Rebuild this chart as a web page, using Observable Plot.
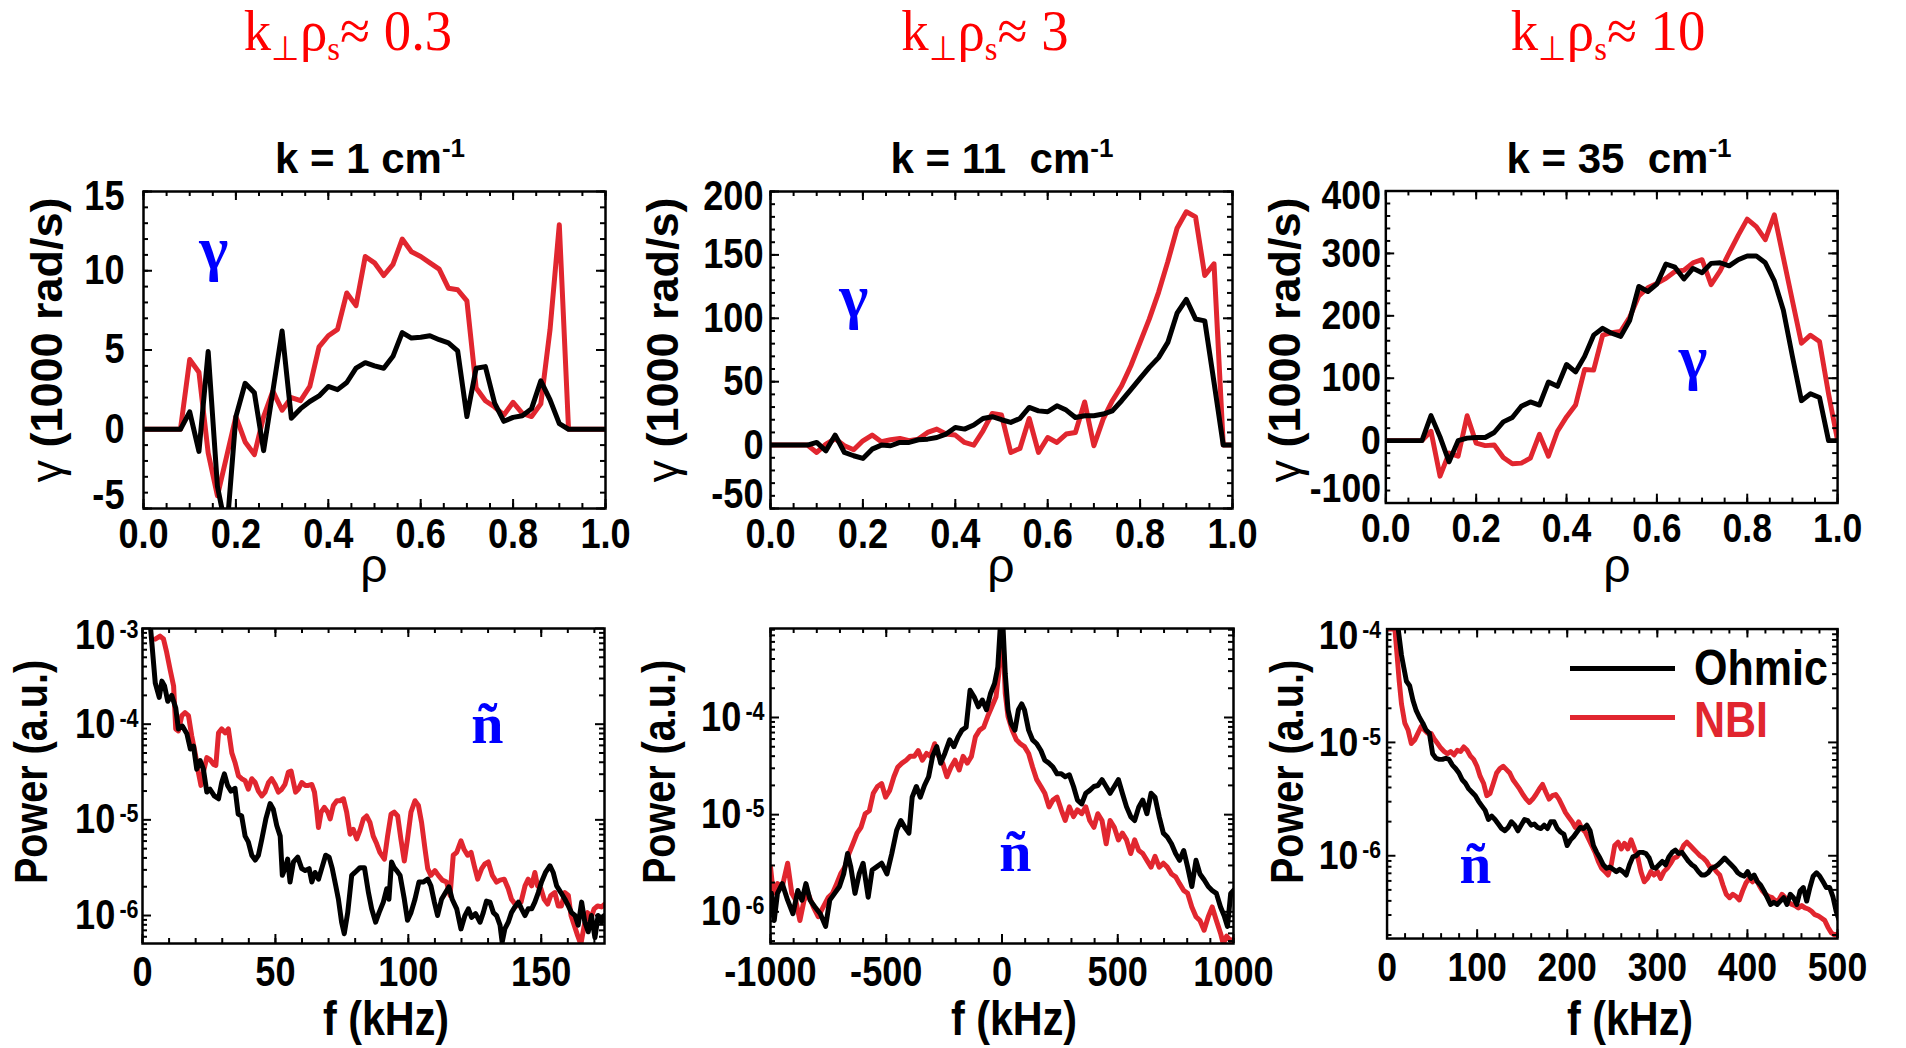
<!DOCTYPE html>
<html><head><meta charset="utf-8">
<script src="https://cdn.jsdelivr.net/npm/d3@7"></script>
<script src="https://cdn.jsdelivr.net/npm/@observablehq/plot@0.6"></script>
<style>
html,body{margin:0;padding:0;background:#fff;}
#fig{position:relative;width:1906px;height:1048px;overflow:hidden;background:#fff;}
.ov{position:absolute;white-space:pre;line-height:0.8;font-family:"Liberation Sans",Arial,sans-serif;font-weight:bold;color:#000;}
.ov sup{font-size:0.62em;vertical-align:0.62em;line-height:0;}
.hdr{font-family:"Liberation Serif","Times New Roman",serif;font-weight:normal;color:#ff0000;line-height:1.3;}
.hdr sub{font-size:0.6em;vertical-align:-0.3em;line-height:0;}
.panel{position:absolute;}
</style></head><body><div id="fig"></div>
<script>
// ---------------- DATA ----------------
const rho = [0,0.02,0.04,0.06,0.08,0.1,0.12,0.14,0.16,0.18,0.2,0.22,0.24,0.26,0.28,0.3,0.32,0.34,0.36,0.38,0.4,0.42,0.44,0.46,0.48,0.5,0.52,0.54,0.56,0.58,0.6,0.62,0.64,0.66,0.68,0.7,0.72,0.74,0.76,0.78,0.8,0.82,0.84,0.86,0.88,0.9,0.92,0.94,0.96,0.98,1.0];

// growth rate gamma (1000 rad/s), k = 1 cm^-1
const gammaK1Ohmic = [0,0,0,0,0,1.1,-1.4,4.9,-3.6,-6.5,0.8,2.9,2.3,-1.35,2.4,6.2,0.7,1.3,1.75,2.1,2.7,2.5,2.95,3.85,4.2,4.0,3.85,4.6,6.1,5.75,5.8,5.9,5.65,5.45,4.95,0.8,3.85,3.95,1.65,0.5,0.75,0.85,1.3,3.05,1.85,0.35,0,0,0,0,0];
const gammaK1NBI   = [0,0,0,0,0,4.4,3.6,-1.5,-4.2,-1.7,0.8,-0.8,-1.6,0.8,2.4,1.2,2.0,1.8,2.7,5.2,5.9,6.3,8.6,7.8,10.9,10.5,9.7,10.4,12.0,11.2,10.9,10.5,10.1,8.9,8.8,8.1,2.6,1.8,1.4,0.9,1.7,1.0,0.8,1.6,6.3,12.9,0,0,0,0,0];
// k = 11 cm^-1
const gammaK11Ohmic = [0,0,0,0,0,2.1,-4.5,7.9,-5.8,-8.4,-10.5,-3.2,0,-0.5,2.1,2.1,4.2,4.7,6,8.7,13.9,12.6,15.8,21,22.4,20,17.9,21,29.7,27,26.3,31,27.6,21.8,23.2,23.2,24.5,27,35,43.7,52.6,61.3,69,81,104,115,99.5,98,49.5,0,0];
const gammaK11NBI   = [0,0,0,0,0,-5.8,0.8,5,-0.5,-3.7,3.4,7.9,2.6,4.2,5.3,3.4,4.7,10,12.6,8.7,7.9,2.1,0,11.3,25,23.7,-5.8,-2.6,21,-5.8,6,2.1,8.7,10,34,-0.5,20.5,35,46.8,62.6,81,99.5,120.5,144.7,171,184,180,133.7,143,0,0];
// k = 35 cm^-1
const gammaK35Ohmic = [0,0,0,0,0,40,6,-34,0,4,5,5,13,30,37,55,62,57,94,87,122,110,135,169,180,172,167,193,247,239,251,283,278,259,276,269,284,285,280,290,296,296,285,256,209,135,64,75,69,0,0];
const gammaK35NBI   = [0,0,0,0,0,15,-57,-20,-25,40,-4,-8,-7,-27,-37,-36,-28,10,-25,15,38,57,114,113,169,173,175,198,232,245,252,260,271,273,285,290,250,272,301,329,355,343,322,362,293,224,156,169,159,75,0];

// density fluctuation spectra: [f (kHz), log10 Power (a.u.)]
const specK1Ohmic = [[2.9,-2.95],[4.8,-3.57],[6.3,-3.72],[7.3,-3.55],[8.3,-3.60],[9.5,-3.76],[11,-3.70],[12.5,-3.83],[13.5,-4.05],[15,-4.02],[16.7,-4.10],[18,-4.26],[19.2,-4.23],[20.4,-4.47],[21.7,-4.38],[22.9,-4.47],[24.2,-4.71],[25.4,-4.68],[27,-4.75],[28.6,-4.78],[29.8,-4.61],[30.8,-4.52],[32,-4.64],[33.3,-4.70],[34.8,-4.67],[36,-4.94],[37.3,-4.96],[38.6,-5.17],[39.8,-5.23],[41.1,-5.37],[42.4,-5.42],[43.6,-5.37],[44.9,-5.20],[46.4,-4.99],[48,-4.83],[49.2,-4.89],[50.5,-5.06],[51.8,-5.17],[52.6,-5.58],[53.6,-5.51],[54.6,-5.41],[55.5,-5.65],[56.8,-5.44],[58.4,-5.39],[59.9,-5.51],[61.2,-5.53],[62.7,-5.51],[63.7,-5.65],[64.9,-5.55],[66.2,-5.62],[67.4,-5.51],[68.9,-5.37],[70.2,-5.39],[71.4,-5.51],[72.7,-5.69],[73.7,-5.83],[74.9,-6.07],[75.9,-6.19],[77.2,-5.97],[78.7,-5.58],[79.9,-5.55],[81.8,-5.50],[83.5,-5.50],[85,-5.76],[86.2,-5.93],[87.7,-6.07],[89,-5.97],[90.6,-5.86],[91.9,-5.72],[92.7,-5.83],[93.7,-5.44],[94.7,-5.50],[95.6,-5.53],[96.9,-5.58],[98.5,-5.83],[99.7,-6.05],[101,-5.97],[102.5,-5.83],[104,-5.65],[105.6,-5.65],[107.3,-5.62],[108.5,-5.69],[109.8,-5.86],[111,-6.00],[112.5,-5.83],[114,-5.76],[115.3,-5.70],[116.5,-5.83],[118.2,-5.93],[119.8,-6.14],[121.3,-6.00],[122.6,-5.93],[123.8,-6.02],[125.3,-5.98],[127,-6.07],[128.2,-5.97],[129.4,-5.85],[130.7,-5.86],[132,-5.97],[133.2,-6.00],[134.5,-6.10],[135.3,-6.28],[136.3,-6.14],[137.6,-6.07],[138.8,-5.97],[140.1,-5.91],[141.4,-5.86],[142.6,-5.93],[143.9,-6.00],[145.1,-5.93],[146.4,-5.93],[147.6,-5.86],[148.9,-5.76],[150.1,-5.65],[151.6,-5.55],[153.3,-5.48],[154.5,-5.55],[155.8,-5.69],[157.4,-5.76],[158.9,-5.83],[160.2,-5.90],[161.4,-5.97],[162.7,-6.00],[163.9,-6.10],[165.2,-5.86],[166.4,-6.07],[167.7,-6.17],[168.9,-6.00],[170.2,-6.23],[171.4,-6.00],[172.7,-6.07],[173.7,-6.00]];
const specK1NBI = [[4.8,-3.11],[6.6,-3.08],[7.9,-3.11],[9.1,-3.25],[10.4,-3.43],[11.7,-3.60],[12.5,-4.05],[13.5,-4.07],[14.8,-3.91],[16,-3.88],[17.3,-3.91],[18.5,-4.12],[19.8,-4.30],[21,-4.50],[22,-4.64],[22.9,-4.50],[24.2,-4.35],[25.4,-4.37],[26.7,-4.42],[27.6,-4.43],[28.6,-4.09],[29.8,-4.05],[31.1,-4.09],[32.3,-4.05],[33.6,-4.30],[34.8,-4.40],[36.1,-4.54],[37.3,-4.57],[38.6,-4.59],[39.8,-4.68],[41.1,-4.57],[42.4,-4.61],[43.6,-4.70],[44.9,-4.75],[46.1,-4.71],[47.4,-4.61],[48.6,-4.57],[49.9,-4.63],[51.1,-4.71],[52.4,-4.68],[53.6,-4.63],[54.9,-4.50],[55.9,-4.49],[56.8,-4.61],[57.6,-4.71],[58.6,-4.68],[59.9,-4.61],[61.2,-4.64],[62.4,-4.64],[63.7,-4.63],[64.7,-4.71],[65.5,-4.89],[66.2,-5.08],[67.2,-4.92],[68.4,-4.87],[69.7,-4.92],[70.6,-4.99],[71.8,-4.85],[73.1,-4.80],[74.3,-4.80],[75.6,-4.78],[76.8,-4.92],[78.1,-5.15],[79.3,-5.10],[80.6,-5.20],[81.8,-5.11],[83.1,-4.99],[84.3,-4.96],[85.6,-5.03],[86.8,-5.17],[88.1,-5.25],[89.3,-5.34],[91,-5.41],[92.2,-5.17],[93.5,-4.94],[94.7,-4.92],[96,-4.96],[97.2,-5.20],[98.5,-5.43],[99.7,-5.20],[101,-4.92],[102.5,-4.80],[103.8,-4.85],[105,-5.03],[106.3,-5.31],[107.3,-5.51],[108.5,-5.58],[110,-5.53],[111.3,-5.58],[112.8,-5.63],[114.4,-5.65],[115.7,-5.79],[116.9,-5.37],[118.2,-5.34],[119.8,-5.22],[121,-5.31],[122.3,-5.37],[123.6,-5.34],[124.8,-5.48],[126.1,-5.62],[127.6,-5.51],[128.8,-5.46],[130.1,-5.44],[131.6,-5.58],[133.2,-5.65],[134.5,-5.63],[136.1,-5.62],[137.6,-5.72],[138.8,-5.83],[140.7,-5.90],[142.4,-5.86],[143.9,-5.69],[145.1,-5.62],[146.4,-5.69],[147.6,-5.55],[148.6,-5.69],[149.9,-5.72],[151.1,-5.83],[152.4,-5.88],[153.6,-5.79],[155.1,-5.76],[156.4,-5.90],[157.6,-5.90],[158.9,-5.76],[160.2,-5.79],[161.2,-6.00],[162.4,-6.10],[163.7,-6.21],[164.9,-6.30],[166.2,-6.10],[167.4,-5.97],[168.7,-6.03],[169.9,-5.93],[171.2,-5.90],[172.7,-5.91],[174,-5.88]];

const specK11Ohmic = [[-996,-5.81],[-984,-6.09],[-970,-5.81],[-949,-5.71],[-926,-5.88],[-903,-6.02],[-882,-5.78],[-864,-5.88],[-847,-5.71],[-829,-5.88],[-808,-5.95],[-785,-6.02],[-762,-6.15],[-744,-5.88],[-723,-5.81],[-702,-5.74],[-684,-5.61],[-667,-5.40],[-653,-5.54],[-635,-5.81],[-617,-5.61],[-600,-5.50],[-578,-5.85],[-561,-5.57],[-543,-5.54],[-520,-5.50],[-497,-5.61],[-476,-5.40],[-455,-5.16],[-437,-5.06],[-420,-5.13],[-402,-5.19],[-388,-4.82],[-370,-4.71],[-353,-4.82],[-335,-4.70],[-317,-4.61],[-300,-4.40],[-282,-4.30],[-265,-4.47],[-247,-4.37],[-226,-4.23],[-208,-4.30],[-190,-4.20],[-173,-4.13],[-155,-4.10],[-138,-3.72],[-120,-3.79],[-102,-3.89],[-85,-3.82],[-67,-3.92],[-49,-3.75],[-32,-3.65],[-18,-3.48],[-7,-3.05],[4,-3.05],[14,-3.55],[26,-3.92],[39,-4.06],[56,-4.13],[71,-3.92],[85,-3.86],[97,-3.92],[115,-4.13],[132,-4.23],[150,-4.27],[168,-4.34],[185,-4.44],[203,-4.47],[220,-4.51],[238,-4.58],[256,-4.58],[273,-4.61],[291,-4.59],[309,-4.71],[326,-4.85],[344,-4.89],[362,-4.78],[379,-4.75],[397,-4.71],[414,-4.70],[432,-4.64],[450,-4.71],[467,-4.78],[485,-4.71],[503,-4.64],[520,-4.78],[538,-4.92],[556,-5.02],[573,-5.06],[591,-4.92],[608,-4.85],[626,-4.99],[644,-4.78],[661,-4.82],[679,-5.02],[697,-5.19],[714,-5.23],[732,-5.30],[750,-5.40],[767,-5.47],[785,-5.37],[802,-5.54],[820,-5.74],[838,-5.47],[855,-5.61],[873,-5.67],[891,-5.74],[908,-5.78],[926,-5.81],[944,-5.95],[961,-6.05],[974,-6.15],[988,-5.81],[1000,-5.78]];
const specK11NBI = [[-1000,-5.54],[-988,-5.81],[-970,-5.71],[-949,-5.74],[-926,-5.50],[-908,-5.81],[-891,-5.88],[-873,-6.09],[-855,-5.88],[-838,-5.81],[-815,-5.95],[-794,-6.05],[-772,-5.95],[-750,-5.85],[-732,-5.81],[-714,-5.71],[-697,-5.61],[-679,-5.54],[-661,-5.40],[-644,-5.30],[-626,-5.19],[-609,-5.13],[-591,-4.99],[-573,-4.96],[-556,-4.78],[-538,-4.71],[-520,-4.68],[-503,-4.82],[-485,-4.75],[-467,-4.61],[-450,-4.51],[-432,-4.47],[-414,-4.44],[-397,-4.40],[-379,-4.40],[-362,-4.34],[-344,-4.44],[-326,-4.37],[-309,-4.40],[-291,-4.27],[-273,-4.40],[-256,-4.47],[-238,-4.61],[-220,-4.51],[-203,-4.44],[-185,-4.54],[-168,-4.40],[-150,-4.47],[-132,-4.40],[-115,-4.20],[-97,-4.13],[-79,-4.10],[-62,-3.99],[-44,-3.89],[-26,-3.79],[-14,-3.55],[-4,-3.10],[4,-3.17],[14,-3.75],[26,-3.99],[44,-4.13],[62,-4.23],[79,-4.27],[97,-4.30],[115,-4.37],[132,-4.51],[150,-4.64],[168,-4.71],[185,-4.78],[203,-4.92],[220,-4.85],[238,-4.82],[256,-4.95],[273,-5.06],[291,-4.92],[309,-5.02],[326,-4.95],[344,-4.99],[362,-4.92],[379,-5.06],[397,-5.13],[414,-4.99],[432,-5.06],[450,-5.30],[467,-5.06],[485,-5.13],[503,-5.26],[520,-5.19],[538,-5.26],[556,-5.40],[573,-5.26],[591,-5.37],[608,-5.40],[626,-5.47],[644,-5.54],[661,-5.43],[679,-5.54],[697,-5.50],[714,-5.54],[732,-5.61],[750,-5.64],[767,-5.71],[785,-5.78],[802,-5.81],[820,-5.95],[838,-6.05],[855,-6.09],[873,-6.19],[891,-6.05],[908,-5.95],[926,-6.09],[944,-6.22],[956,-6.33],[970,-6.25],[988,-6.30],[1000,-6.28]];

const specK35Ohmic = [[11.5,-3.95],[12.4,-4.00],[16,-4.23],[18.6,-4.34],[21.5,-4.46],[25.1,-4.50],[28.8,-4.63],[32.4,-4.72],[36,-4.78],[39.7,-4.83],[43.3,-4.89],[47,-4.92],[50.6,-5.10],[54.3,-5.14],[57.9,-5.15],[61.5,-5.15],[65.2,-5.14],[68.8,-5.15],[72.5,-5.20],[76.1,-5.23],[79.8,-5.27],[83.4,-5.33],[87,-5.36],[90.7,-5.41],[94.3,-5.44],[98,-5.47],[101.6,-5.52],[105.2,-5.56],[108.9,-5.60],[112.5,-5.68],[116.2,-5.65],[119.8,-5.68],[123.5,-5.72],[127.1,-5.76],[130.7,-5.78],[134.4,-5.75],[138,-5.70],[141.7,-5.73],[145.3,-5.78],[148.9,-5.73],[152.6,-5.68],[156.2,-5.69],[159.9,-5.73],[163.5,-5.72],[167.2,-5.75],[170.8,-5.76],[174.4,-5.73],[178.1,-5.76],[181.7,-5.70],[185.4,-5.70],[189,-5.76],[192.6,-5.79],[196.3,-5.81],[199.9,-5.91],[203.6,-5.86],[207.2,-5.83],[210.8,-5.79],[214.5,-5.75],[218.1,-5.76],[221.8,-5.73],[225.4,-5.78],[229.1,-5.91],[232.7,-5.97],[236.3,-6.02],[240,-6.08],[243.6,-6.11],[247.3,-6.10],[250.9,-6.12],[254.5,-6.14],[258.2,-6.12],[261.8,-6.14],[265.5,-6.17],[269.1,-6.08],[272.8,-6.01],[276.4,-6.00],[280,-5.97],[283.7,-5.97],[287.3,-5.98],[291,-6.02],[294.6,-6.10],[298.2,-6.11],[301.9,-6.08],[305.5,-6.05],[309.2,-6.08],[312.8,-6.01],[316.5,-5.97],[320.1,-5.95],[323.7,-5.98],[327.4,-5.97],[331,-6.01],[334.7,-6.05],[338.3,-6.08],[341.9,-6.10],[345.6,-6.14],[349.2,-6.17],[352.9,-6.17],[356.5,-6.15],[360.2,-6.11],[363.8,-6.10],[367.4,-6.08],[371.1,-6.05],[374.7,-6.02],[378.4,-6.05],[382,-6.08],[385.7,-6.11],[389.3,-6.15],[392.9,-6.17],[396.6,-6.18],[400.2,-6.14],[403.9,-6.20],[407.5,-6.17],[411.1,-6.23],[414.8,-6.26],[418.4,-6.31],[422.1,-6.37],[425.7,-6.43],[429.3,-6.41],[433,-6.43],[436.6,-6.40],[440.3,-6.37],[443.9,-6.43],[447.6,-6.34],[451.2,-6.37],[454.8,-6.43],[458.5,-6.31],[462.1,-6.28],[465.8,-6.40],[469.4,-6.28],[473,-6.18],[476.7,-6.15],[480.3,-6.18],[484,-6.23],[487.6,-6.28],[491.3,-6.28],[494.9,-6.36],[498.5,-6.49],[501.4,-6.56]];
const specK35NBI = [[1.5,-4.00],[8.7,-4.00],[13.5,-4.46],[16,-4.66],[19.7,-4.83],[23.3,-4.89],[26.9,-5.01],[30.6,-4.98],[34.2,-4.92],[37.9,-4.86],[41.5,-4.89],[45.2,-4.92],[48.8,-4.92],[52.4,-4.97],[56.1,-5.01],[59.7,-5.05],[63.4,-5.08],[67,-5.10],[70.6,-5.08],[74.3,-5.11],[77.9,-5.07],[81.6,-5.08],[85.2,-5.04],[88.9,-5.07],[92.5,-5.12],[96.1,-5.15],[99.8,-5.21],[103.4,-5.30],[107.1,-5.36],[110.7,-5.47],[114.3,-5.45],[118,-5.36],[121.6,-5.27],[125.3,-5.23],[128.9,-5.21],[132.6,-5.24],[136.2,-5.27],[139.8,-5.33],[143.5,-5.37],[147.1,-5.41],[150.8,-5.46],[154.4,-5.50],[158,-5.53],[161.7,-5.50],[165.3,-5.46],[169,-5.41],[172.6,-5.37],[176.3,-5.44],[179.9,-5.50],[183.5,-5.47],[187.2,-5.46],[190.8,-5.50],[194.5,-5.56],[198.1,-5.62],[201.7,-5.66],[205.4,-5.70],[209,-5.75],[212.7,-5.70],[216.3,-5.76],[220,-5.79],[223.6,-5.85],[227.2,-5.91],[230.9,-5.97],[234.5,-6.05],[238.1,-6.11],[241.8,-6.14],[245.4,-6.17],[249.1,-6.07],[252.7,-5.91],[256.4,-5.88],[260,-5.94],[263.6,-5.89],[267.3,-5.94],[270.9,-5.86],[274.6,-5.94],[278.2,-6.01],[281.8,-6.14],[285.5,-6.23],[289.1,-6.20],[292.8,-6.14],[296.4,-6.17],[300.1,-6.14],[303.7,-6.20],[307.3,-6.14],[311,-6.11],[314.6,-6.07],[318.3,-6.02],[321.9,-6.01],[325.6,-5.97],[329.2,-5.91],[332.8,-5.88],[336.5,-5.91],[340.1,-5.94],[343.8,-5.97],[347.4,-6.00],[351,-6.02],[354.7,-6.05],[358.3,-6.10],[362,-6.10],[365.6,-6.14],[369.3,-6.17],[372.9,-6.26],[376.5,-6.34],[380.2,-6.37],[383.8,-6.34],[387.5,-6.36],[391.1,-6.39],[394.7,-6.31],[398.4,-6.24],[402,-6.20],[405.7,-6.23],[409.3,-6.20],[413,-6.26],[416.6,-6.31],[420.2,-6.34],[423.9,-6.36],[427.5,-6.37],[431.2,-6.40],[434.8,-6.39],[438.4,-6.34],[442.1,-6.37],[445.7,-6.41],[449.4,-6.43],[453,-6.44],[456.6,-6.46],[460.3,-6.44],[463.9,-6.46],[467.6,-6.47],[471.2,-6.49],[474.9,-6.52],[478.5,-6.53],[482.1,-6.55],[485.8,-6.57],[489.4,-6.63],[493.1,-6.68],[496.7,-6.70],[500,-6.69]];

// tick labels
const rhoTicks = [0, 0.2, 0.4, 0.6, 0.8, 1.0];
const gammaTicksK1 = [-5, 0, 5, 10, 15];
const gammaTicksK11 = [-50, 0, 50, 100, 150, 200];
const gammaTicksK35 = [-100, 0, 100, 200, 300, 400];
const freqTicksK1 = [0, 50, 100, 150];
const freqTicksK11 = [-1000, -500, 0, 500, 1000];
const freqTicksK35 = [0, 100, 200, 300, 400, 500];
const powerTicksK1 = [1e-3, 1e-4, 1e-5, 1e-6];
const powerTicksK11 = [1e-4, 1e-5, 1e-6];
const powerTicksK35 = [1e-4, 1e-5, 1e-6];

const headers = ["k<sub>⊥</sub>ρ<sub>s</sub>≈ 0.3", "k<sub>⊥</sub>ρ<sub>s</sub>≈ 3", "k<sub>⊥</sub>ρ<sub>s</sub>≈ 10"];
const titles = ["k = 1 cm<sup>-1</sup>", "k = 11  cm<sup>-1</sup>", "k = 35  cm<sup>-1</sup>"];
const seriesNames = ["Ohmic", "NBI"];

// ---------------- STYLE ----------------
const SANS = '"Liberation Sans",Arial,sans-serif';
const SERIF = '"Liberation Serif","Times New Roman",serif';
const RED = "#e1262f", BLACK = "#000000", BLUE = "#0000ff";
const NARROW = 0.86;

const lin = (ys) => rho.map((x, i) => ({x, y: ys[i]}));
const spec = (pairs) => pairs.map(([f, e]) => ({x: f, y: Math.pow(10, e)}));
const range = (a, b, s) => { const out = []; for (let v = a; v <= b + 1e-9; v += s) out.push(+v.toFixed(6)); return out; };
const logMinor = (lo, hi) => { const out = []; for (let d = -8; d <= -2; d++) for (let m = 2; m <= 9; m++) { const v = m * Math.pow(10, d); if (v > lo && v < hi) out.push(v); } return out; };

const panels = [
  {left: 143, top: 191, w: 462, h: 317, xDomain: [0, 1], yDomain: [-5, 15], yType: "linear",
   xMajor: rhoTicks, xMinor: range(0, 1, 0.05), yMajor: gammaTicksK1, yMinor: range(-5, 15, 1),
   ohmic: lin(gammaK1Ohmic), nbi: lin(gammaK1NBI), xFmt: d => d.toFixed(1), yFmt: d => String(d),
   yPad: 19, xPad: 10, topDy: 5, botDy: -13, annot: {x: 0.152, y: 10.1, t: "γ"}},
  {left: 770, top: 191, w: 462, h: 317, xDomain: [0, 1], yDomain: [-50, 200], yType: "linear",
   xMajor: rhoTicks, xMinor: range(0, 1, 0.05), yMajor: gammaTicksK11, yMinor: range(-50, 200, 10),
   ohmic: lin(gammaK11Ohmic), nbi: lin(gammaK11NBI), xFmt: d => d.toFixed(1), yFmt: d => String(d),
   yPad: 7, xPad: 10, topDy: 5, botDy: -14, annot: {x: 0.18, y: 100.7, t: "γ"}},
  {left: 1388, top: 191, w: 459, h: 317, xDomain: [0, 1], yDomain: [-100, 400], yType: "linear",
   xMajor: rhoTicks, xMinor: range(0, 1, 0.05), yMajor: gammaTicksK35, yMinor: range(-100, 400, 20),
   ohmic: lin(gammaK35Ohmic), nbi: lin(gammaK35NBI), xFmt: d => d.toFixed(1), yFmt: d => String(d),
   yPad: 5, xPad: 10, topDy: 5, botDy: -14, annot: {x: 0.68, y: 100, t: "γ"}},
  {left: 142, top: 628, w: 462, h: 315, xDomain: [0, 173.8], yDomain: [5.1e-7, 1e-3], yType: "log",
   xMajor: freqTicksK1, xMinor: range(0, 170, 10), yMajor: powerTicksK1, yMinor: logMinor(5.1e-7, 1e-3),
   ohmic: spec(specK1Ohmic), nbi: spec(specK1NBI), xFmt: d => String(d), yFmt: d => "10^" + Math.round(Math.log10(d)),
   yPad: 4, xPad: 13, topDy: 7, botDy: 0, annot: {x: 129.7, y: 6.4e-5, t: "ñ"}},
  {left: 770, top: 628, w: 463, h: 315, xDomain: [-1000, 1000], yDomain: [4.72e-7, 8.24e-4], yType: "log",
   xMajor: freqTicksK11, xMinor: range(-1000, 1000, 100), yMajor: powerTicksK11, yMinor: logMinor(4.72e-7, 8.24e-4),
   ohmic: spec(specK11Ohmic), nbi: spec(specK11NBI), xFmt: d => String(d), yFmt: d => "10^" + Math.round(Math.log10(d)),
   yPad: 6, xPad: 13, topDy: 0, botDy: 0, annot: {x: 58, y: 2.6e-6, t: "ñ"}},
  {left: 1389, top: 629, w: 457, h: 314, xDomain: [0, 500], yDomain: [1.86e-7, 1e-4], yType: "log",
   xMajor: freqTicksK35, xMinor: range(0, 500, 20), yMajor: powerTicksK35, yMinor: logMinor(1.86e-7, 1e-4),
   ohmic: spec(specK35Ohmic), nbi: spec(specK35NBI), xFmt: d => String(d), yFmt: d => "10^" + Math.round(Math.log10(d)),
   yPad: 6, xPad: 13, topDy: 7, botDy: 0, annot: {x: 98, y: 5.8e-7, t: "ñ"}}
];

const fig = document.getElementById("fig");
const mL = 170, mR = 70, mT = 30, mB = 90;

panels.forEach((c) => {
  const tl = 9, ts = 5, tw = 2;
  const ticksX = (vals, len) => [
    Plot.tickX(vals, {x: d => d, insetTop: c.h - len, strokeWidth: tw, stroke: BLACK}),
    Plot.tickX(vals, {x: d => d, insetBottom: c.h - len, strokeWidth: tw, stroke: BLACK})
  ];
  const ticksY = (vals, len) => [
    Plot.tickY(vals, {y: d => d, insetRight: c.w - len, strokeWidth: tw, stroke: BLACK}),
    Plot.tickY(vals, {y: d => d, insetLeft: c.w - len, strokeWidth: tw, stroke: BLACK})
  ];
  const yTop = c.yMajor.reduce((a, b) => Math.max(a, b));
  const yBot = c.yMajor.reduce((a, b) => Math.min(a, b));
  const axisTxt = {fontSize: 42, fontWeight: "bold", fontFamily: SANS, fill: BLACK};
  const yAxisFor = (ticks, dy) => Plot.axisY({ticks, tickSize: 0, tickPadding: c.yPad, tickFormat: c.yFmt, label: null, dy, ...axisTxt});
  const isLog = c.yType === "log";
  const marks = [
    Plot.line(c.nbi, {x: "x", y: "y", stroke: RED, strokeWidth: 5, clip: true}),
    Plot.line(c.ohmic, {x: "x", y: "y", stroke: BLACK, strokeWidth: 5, clip: true}),
    ...ticksX(c.xMinor, ts), ...ticksX(c.xMajor, tl),
    ...ticksY(c.yMinor, ts), ...ticksY(c.yMajor, tl),
    Plot.frame({stroke: BLACK, strokeWidth: 2.5}),
    Plot.text([c.annot], {x: "x", y: "y", text: "t", fill: BLUE, fontSize: isLog ? 58 : 62, fontWeight: "bold", fontFamily: SERIF, textAnchor: "middle", lineAnchor: "bottom"}),
    Plot.axisX({ticks: c.xMajor, tickSize: 0, tickPadding: c.xPad, tickFormat: c.xFmt, label: null, ...axisTxt}),
    yAxisFor(c.yMajor.filter(v => v !== yTop && v !== yBot), 0),
    yAxisFor([yTop], c.topDy),
    yAxisFor([yBot], c.botDy)
  ];
  const svg = Plot.plot({
    width: c.w + mL + mR, height: c.h + mT + mB,
    marginLeft: mL, marginRight: mR, marginTop: mT, marginBottom: mB,
    x: {domain: c.xDomain},
    y: {domain: c.yDomain, type: c.yType},
    style: {background: "transparent", overflow: "visible", fontFamily: SANS},
    marks
  });
  const wrap = document.createElement("div");
  wrap.className = "panel";
  wrap.style.left = (c.left - mL) + "px";
  wrap.style.top = (c.top - mT) + "px";
  wrap.appendChild(svg);
  fig.appendChild(wrap);
  // exponents of the log axes as separate raised labels next to "10"
  svg.querySelectorAll('g[aria-label="y-axis tick label"] text').forEach(t => {
    const m = t.textContent.match(/^10\^(.+)$/);
    if (!m) return;
    t.textContent = "10";
    const s = t.cloneNode(false);
    s.textContent = m[1];
    s.setAttribute("font-size", "25");
    s.setAttribute("dy", "-5.6");
    t.parentNode.appendChild(s);
    const sw = s.getComputedTextLength();   // uncompressed width: keeps the two boxes apart
    t.setAttribute("x", (-(sw + 1)).toFixed(2));
  });
  // condensed look of the tick labels: compress each label's advance width
  svg.querySelectorAll('g[aria-label$="tick label"] text').forEach(t => {
    const L = t.getComputedTextLength();
    if (L > 0) {
      t.setAttribute("textLength", (L * NARROW).toFixed(2));
      t.setAttribute("lengthAdjust", "spacingAndGlyphs");
    }
  });
});

// ---------------- TEXT OVERLAYS ----------------
const BASE = 0.746;      // baseline offset (em) from box top, sans at line-height 0.8
const BASE_HDR = 0.9875; // serif at line-height 1.3
function overlay(html, css, cls) {
  const d = document.createElement("div");
  d.className = "ov" + (cls ? " " + cls : "");
  d.innerHTML = html;
  Object.assign(d.style, css);
  fig.appendChild(d);
  return d;
}
function textAt(html, x, baseline, size, cls, sx, extra, base) {
  return overlay(html, Object.assign({left: x + "px", top: (baseline - (base || BASE) * size) + "px", fontSize: size + "px",
    transform: `translateX(-50%) scaleX(${sx})`}, extra || {}), cls);
}
function vlabel(html, cx, cy, size, sx) {
  return overlay(html, {left: cx + "px", top: cy + "px", fontSize: size + "px", transform: `translate(-50%,-50%) rotate(-90deg) scaleX(${sx})`});
}

// red headers
[348, 985, 1608].forEach((x, i) => textAt(headers[i], x, 50, 57, "hdr", 0.96, null, BASE_HDR));
// panel titles
[370, 1002, 1619].forEach((x, i) => textAt(titles[i], x, 173, 42, "", 1));
// axis labels
const gLab = '<span style="font-weight:normal">γ</span> (1000 rad/s)';
[[47, 340], [663, 340], [1285, 340]].forEach(([x, y]) => vlabel(gLab, x, y, 45, 1));
[[31, 772], [659, 772], [1287, 772]].forEach(([x, y]) => vlabel("Power (a.u.)", x, y, 46, NARROW));
[374, 1001, 1617].forEach(x => textAt("ρ", x, 583, 48, "", 1, {fontWeight: "normal"}));
[386, 1014, 1630].forEach(x => textAt("f (kHz)", x, 1036, 48, "", NARROW));

// legend (panel 6)
overlay("", {left: "1570px", top: "666px", width: "105px", height: "5px", background: BLACK});
overlay("", {left: "1570px", top: "715px", width: "105px", height: "5px", background: RED});
overlay(seriesNames[0], {left: "1694px", top: (685 - BASE * 50) + "px", fontSize: "50px", color: BLACK, transform: `scaleX(${NARROW})`, transformOrigin: "left center"});
overlay(seriesNames[1], {left: "1694px", top: (737 - BASE * 50) + "px", fontSize: "50px", color: RED, transform: `scaleX(${NARROW})`, transformOrigin: "left center"});
</script></body></html>
